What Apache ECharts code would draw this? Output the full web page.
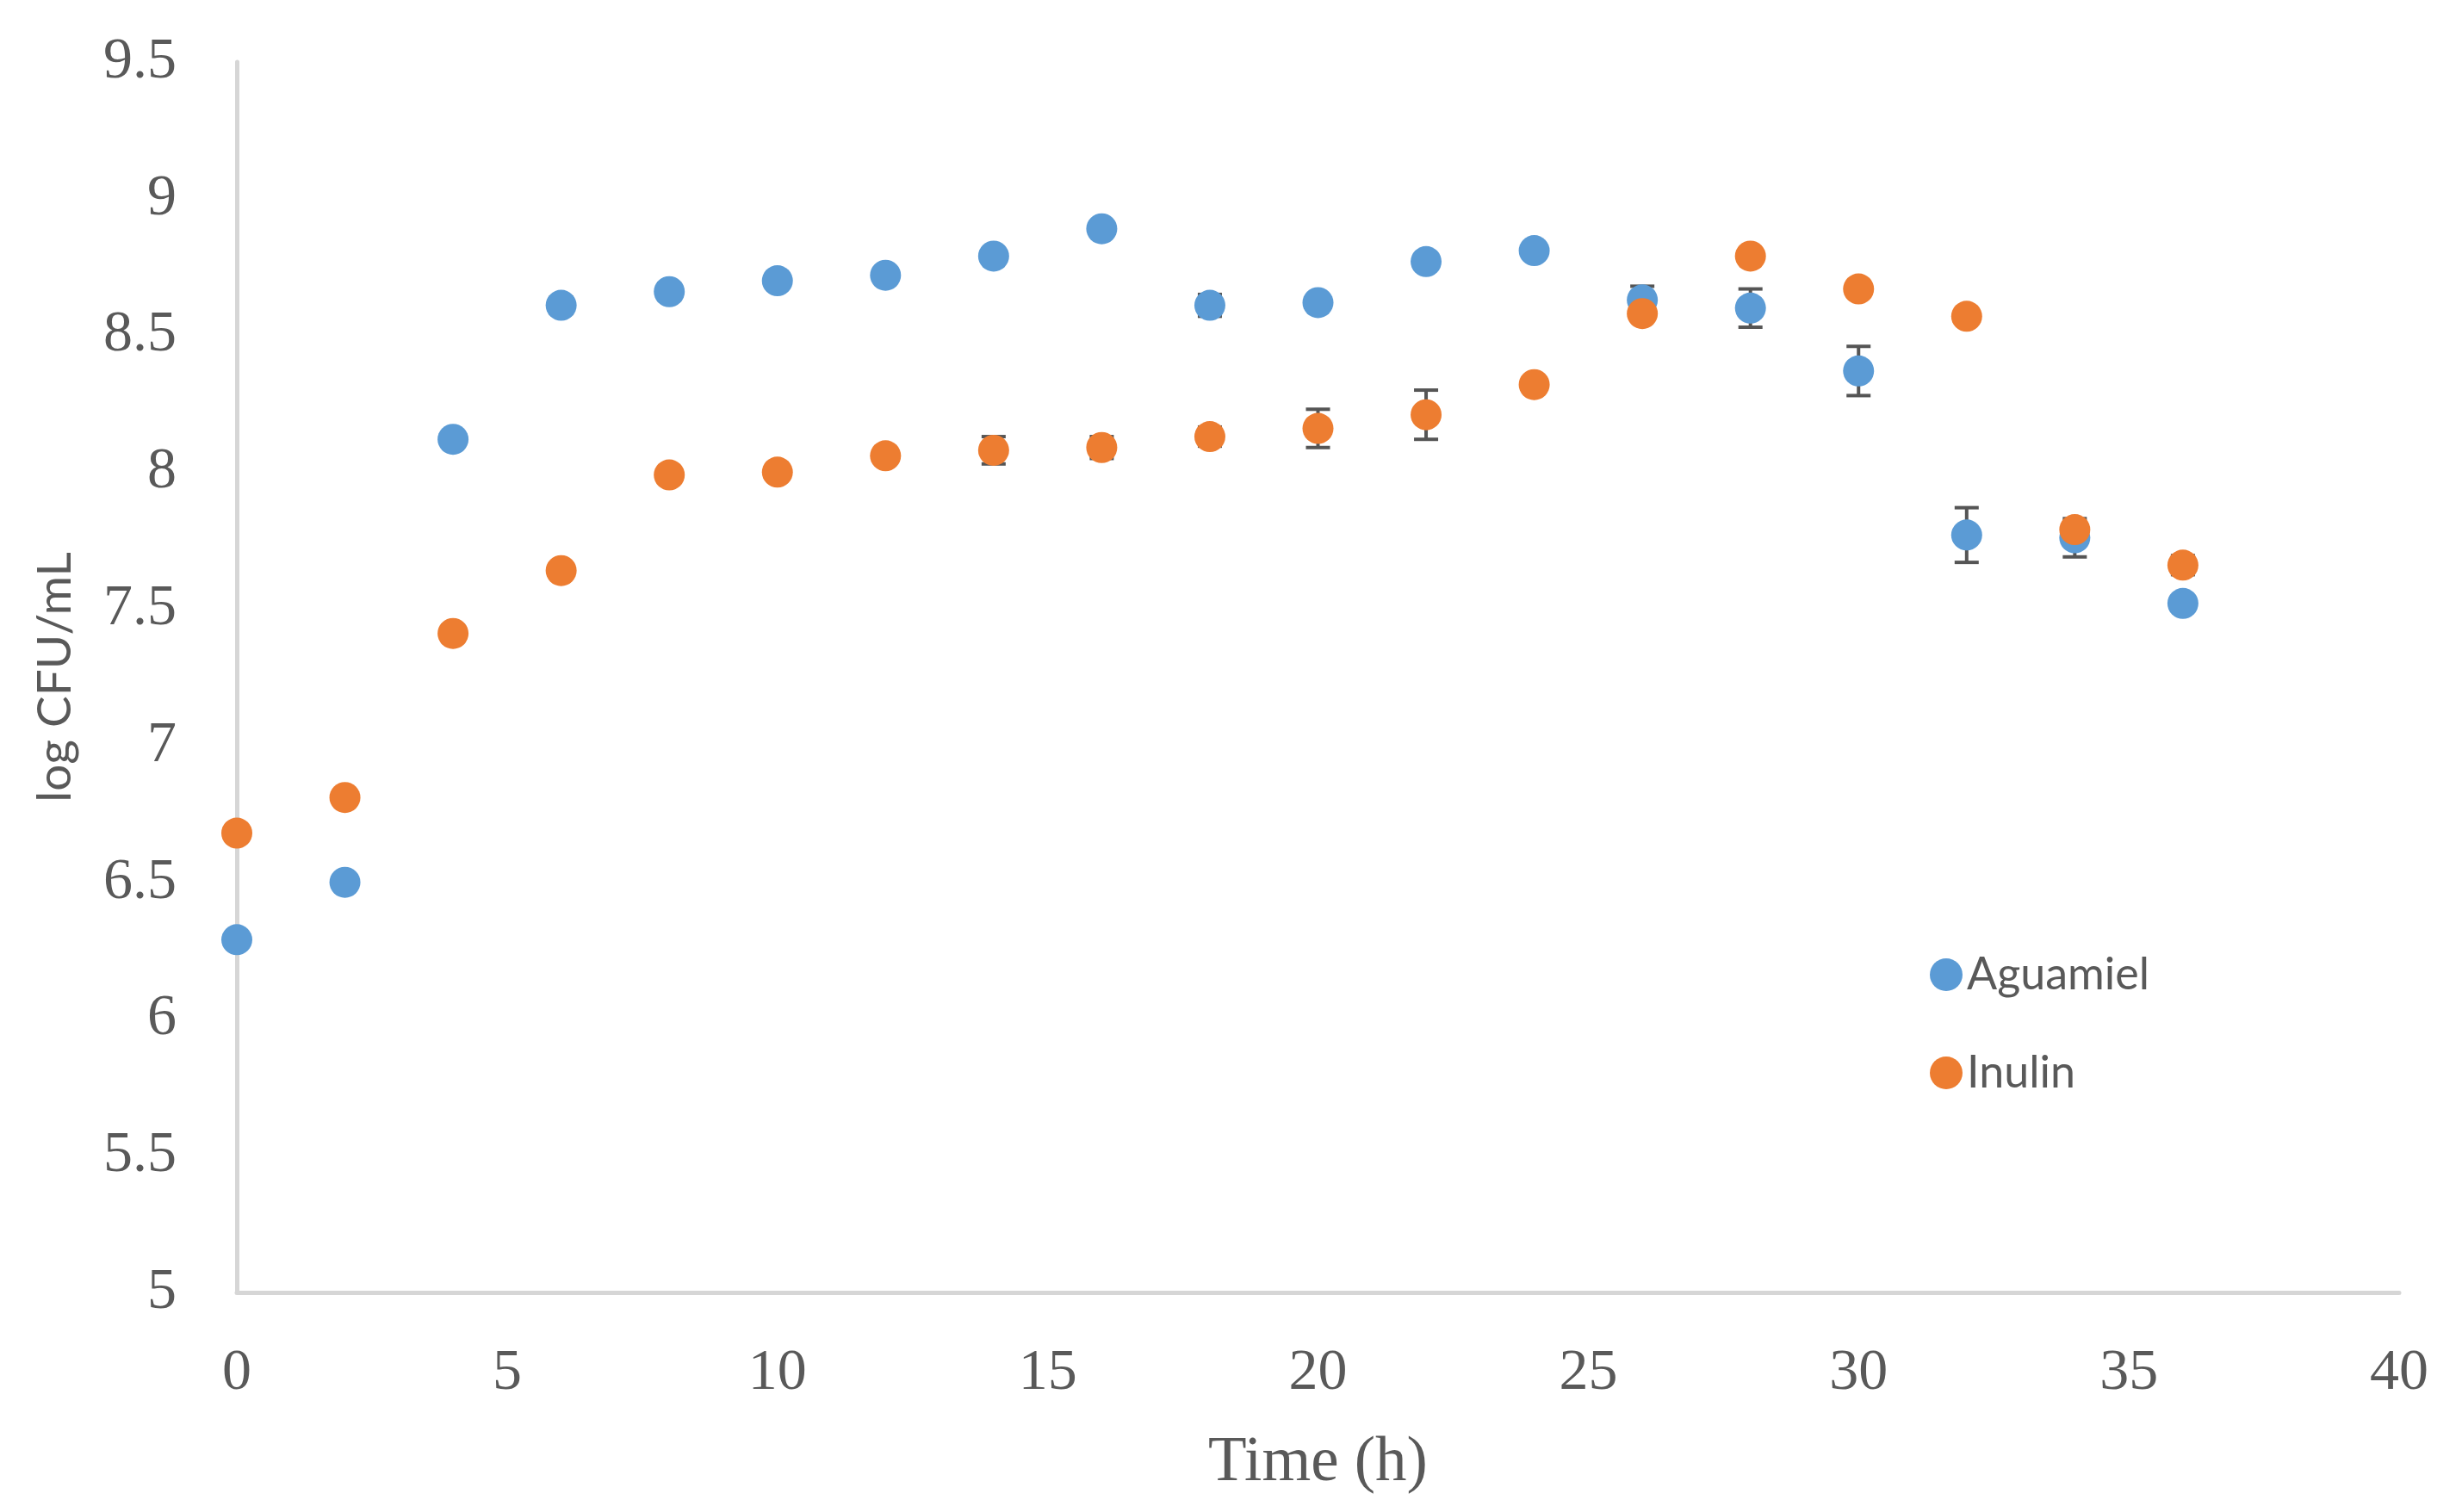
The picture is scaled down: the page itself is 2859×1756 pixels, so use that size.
<!DOCTYPE html>
<html>
<head>
<meta charset="utf-8">
<script src="https://cdn.jsdelivr.net/npm/echarts@6/dist/echarts.min.js"></script>
<style>
html,body{margin:0;padding:0;background:#fff;}
#chart{width:2859px;height:1756px;}
</style>
</head>
<body>
<div id="chart"></div>
<script>
var times = [0, 2, 4, 6, 8, 10, 12, 14, 16, 18, 20, 22, 24, 26, 28, 30, 32, 34, 36];
var aguamielMean = [6.29, 6.50, 8.12, 8.61, 8.66, 8.70, 8.72, 8.79, 8.89, 8.61, 8.62, 8.77, 8.81, 8.63, 8.60, 8.37, 7.77, 7.76, 7.52];
var aguamielErr  = [0.01, 0.01, 0.01, 0.03, 0.03, 0.01, 0.01, 0.01, 0.01, 0.04, 0.01, 0.01, 0.01, 0.05, 0.07, 0.09, 0.10, 0.07, 0.01];
var inulinMean   = [6.68, 6.81, 7.41, 7.64, 7.99, 8.00, 8.06, 8.08, 8.09, 8.13, 8.16, 8.21, 8.32, 8.58, 8.79, 8.67, 8.57, 7.79, 7.66];
var inulinErr    = [0.01, 0.01, 0.03, 0.01, 0.01, 0.01, 0.01, 0.05, 0.04, 0.035, 0.07, 0.09, 0.01, 0.02, 0.01, 0.01, 0.01, 0.01, 0.035];
var seriesNames = ['Aguamiel', 'Inulin'];
var xTicks = [0, 5, 10, 15, 20, 25, 30, 35, 40];
var yTicks = [5, 5.5, 6, 6.5, 7, 7.5, 8, 8.5, 9, 9.5];

var blue = '#5B9BD5', orange = '#ED7D31', errColor = '#555555';

function pairs(mean) { return times.map(function (t, i) { return [t, mean[i]]; }); }
function errData(mean, err) { return times.map(function (t, i) { return [t, mean[i] - err[i], mean[i] + err[i]]; }); }

function renderErr(params, api) {
  var x = api.value(0);
  var lo = api.coord([x, api.value(1)]);
  var hi = api.coord([x, api.value(2)]);
  var hw = 14;
  var st = { stroke: errColor, lineWidth: 4 };
  return {
    type: 'group',
    children: [
      { type: 'line', shape: { x1: lo[0], y1: lo[1], x2: hi[0], y2: hi[1] }, style: st },
      { type: 'line', shape: { x1: lo[0] - hw, y1: lo[1], x2: lo[0] + hw, y2: lo[1] }, style: st },
      { type: 'line', shape: { x1: hi[0] - hw, y1: hi[1], x2: hi[0] + hw, y2: hi[1] }, style: st }
    ]
  };
}

var chart = echarts.init(document.getElementById('chart'));
chart.setOption({
  animation: false,
  backgroundColor: '#ffffff',
  grid: { left: 275, right: 73, top: 72, bottom: 255, containLabel: false },
  legend: {
    orient: 'vertical',
    left: 2236,
    top: 1101,
    itemWidth: 38,
    itemHeight: 38,
    itemGap: 62,
    icon: 'circle',
    data: seriesNames,
    textStyle: { fontFamily: 'Lato', fontSize: 52, color: '#595959', padding: [0, 0, 0, 0] }
  },
  xAxis: {
    type: 'value',
    min: 0, max: 40, interval: 5,
    name: 'Time (h)',
    nameLocation: 'middle',
    nameGap: 162,
    nameTextStyle: { fontFamily: 'Liberation Serif', fontSize: 73, color: '#595959' },
    axisLine: { lineStyle: { color: '#d6d6d6', width: 5 } },
    axisTick: { show: false },
    splitLine: { show: false },
    axisLabel: {
      margin: 60, fontFamily: 'Liberation Serif', fontSize: 68, color: '#595959',
      formatter: function (v) { return xTicks.indexOf(v) >= 0 ? String(v) : ''; }
    }
  },
  yAxis: {
    type: 'value',
    min: 5, max: 9.5, interval: 0.5,
    name: 'log CFU/mL',
    nameLocation: 'middle',
    nameGap: 183,
    nameTextStyle: { fontFamily: 'Lato', fontSize: 55, color: '#595959' },
    axisLine: { show: true, lineStyle: { color: '#d6d6d6', width: 5 } },
    axisTick: { show: false },
    splitLine: { show: false },
    axisLabel: {
      margin: 70, fontFamily: 'Liberation Serif', fontSize: 68, color: '#595959',
      formatter: function (v) { return yTicks.indexOf(v) >= 0 ? String(v) : ''; }
    }
  },
  series: [
    { name: 'AguamielErr', type: 'custom', renderItem: renderErr, data: errData(aguamielMean, aguamielErr), z: 2, silent: true },
    { name: seriesNames[0], type: 'scatter', data: pairs(aguamielMean), symbol: 'circle', symbolSize: 36, itemStyle: { color: blue, opacity: 1 }, z: 3 },
    { name: 'InulinErr', type: 'custom', renderItem: renderErr, data: errData(inulinMean, inulinErr), z: 4, silent: true },
    { name: seriesNames[1], type: 'scatter', data: pairs(inulinMean), symbol: 'circle', symbolSize: 36, itemStyle: { color: orange, opacity: 1 }, z: 5 }
  ]
});
</script>
</body>
</html>
